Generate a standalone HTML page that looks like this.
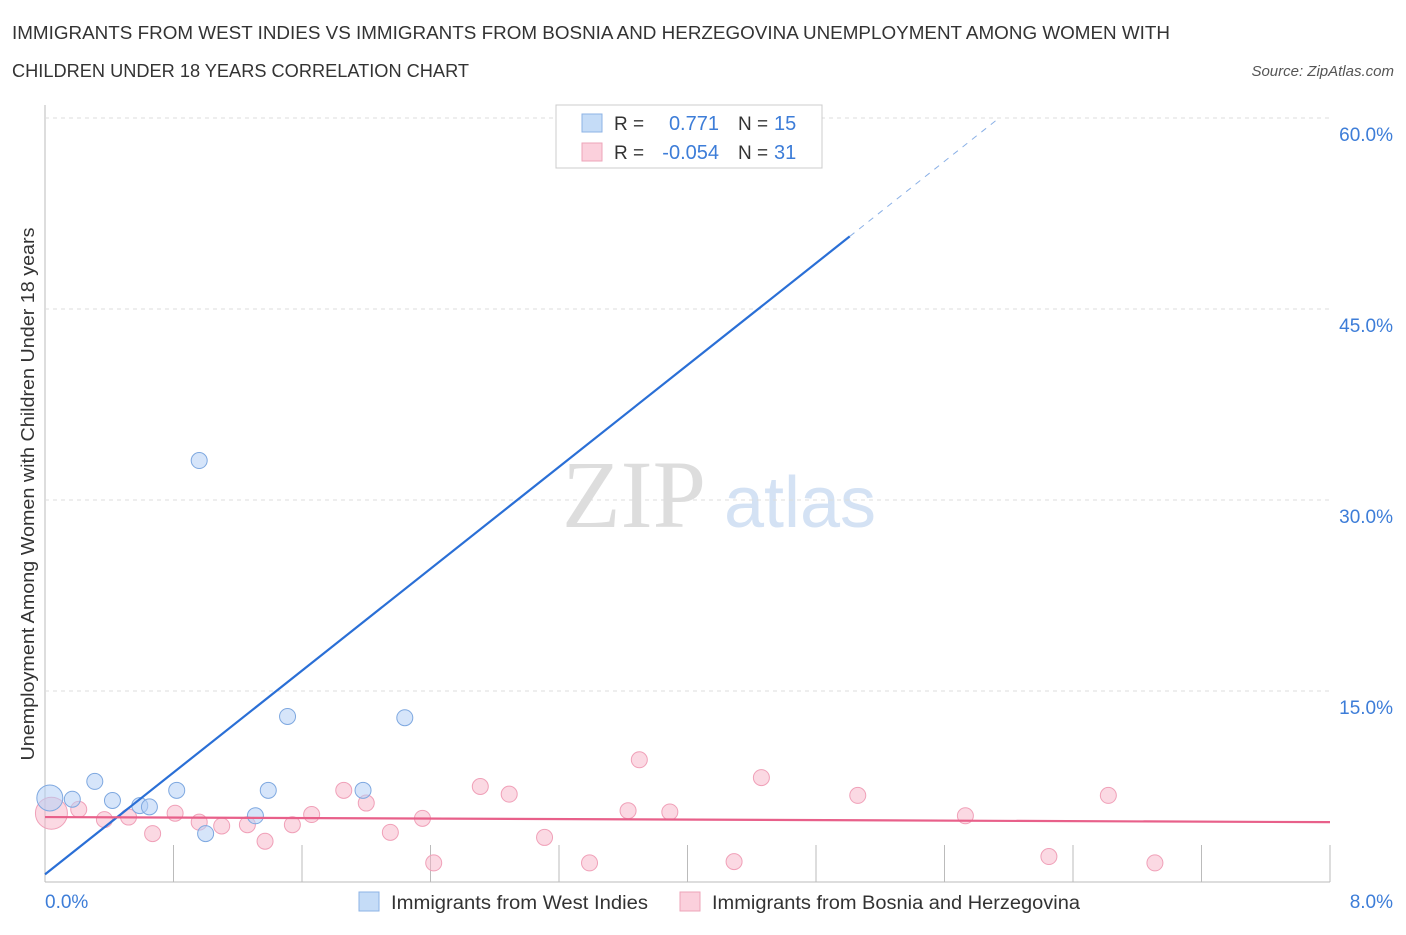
<!DOCTYPE html>
<html><head><meta charset="utf-8"><style>
body{margin:0;background:#fff;font-family:"Liberation Sans",sans-serif}
</style></head><body>
<svg id="c" width="1406" height="930" xmlns="http://www.w3.org/2000/svg" style="font-family:'Liberation Sans',sans-serif">
<text x="12" y="39" font-size="18" fill="#333" textLength="1158" lengthAdjust="spacingAndGlyphs">IMMIGRANTS FROM WEST INDIES VS IMMIGRANTS FROM BOSNIA AND HERZEGOVINA UNEMPLOYMENT AMONG WOMEN WITH</text>
<text x="12" y="77" font-size="18" fill="#333" textLength="457" lengthAdjust="spacingAndGlyphs">CHILDREN UNDER 18 YEARS CORRELATION CHART</text>
<text x="1394" y="76" font-size="15" fill="#555" font-style="italic" text-anchor="end">Source: ZipAtlas.com</text>
<text x="634" y="527" font-size="96" fill="#ddd" font-family="Liberation Serif,serif" text-anchor="middle">ZIP</text>
<text x="800" y="527" font-size="72" fill="#d4e2f4" text-anchor="middle">atlas</text>
<text transform="translate(34,494) rotate(-90)" font-size="18" fill="#333" text-anchor="middle" textLength="533" lengthAdjust="spacingAndGlyphs">Unemployment Among Women with Children Under 18 years</text>
<g id="grid"></g><g id="marks"></g>
<g>
<rect x="556" y="105" width="266" height="63" fill="#fff" stroke="#ccc"/>
<rect x="582" y="114" width="20" height="18" fill="#c5dcf7" stroke="#8db3e6"/>
<rect x="582" y="143" width="20" height="18" fill="#fbd0dc" stroke="#eea4b9"/>
<text x="614" y="130" font-size="19" fill="#333">R =</text><text x="719" y="130" font-size="20" fill="#3d7dd8" text-anchor="end">0.771</text>
<text x="738" y="130" font-size="19" fill="#333">N =</text><text x="774" y="130" font-size="20" fill="#3d7dd8">15</text>
<text x="614" y="159" font-size="19" fill="#333">R =</text><text x="719" y="159" font-size="20" fill="#3d7dd8" text-anchor="end">-0.054</text>
<text x="738" y="159" font-size="19" fill="#333">N =</text><text x="774" y="159" font-size="20" fill="#3d7dd8">31</text>
</g>
<g>
<rect x="359" y="892" width="20" height="19" fill="#c5dcf7" stroke="#8db3e6"/>
<text x="391" y="909" font-size="19" fill="#333" textLength="257" lengthAdjust="spacingAndGlyphs">Immigrants from West Indies</text>
<rect x="680" y="892" width="20" height="19" fill="#fbd0dc" stroke="#eea4b9"/>
<text x="712" y="909" font-size="19" fill="#333" textLength="368" lengthAdjust="spacingAndGlyphs">Immigrants from Bosnia and Herzegovina</text>
</g>
</svg>
<script>
const yTicks=[15,30,45,60];
const yTickLabels=["15.0%","30.0%","45.0%","60.0%"];
const blueX=[0.03,0.17,0.31,0.42,0.59,0.65,0.82,0.96,1.00,1.31,1.39,1.51,1.98,2.24,4.53];
const blueY=[6.6,6.5,7.9,6.4,6.0,5.9,7.2,33.1,3.8,5.2,7.2,13.0,7.2,12.9,58.7];
const pinkX=[0.04,0.21,0.37,0.52,0.67,0.81,0.96,1.10,1.26,1.37,1.54,1.66,1.86,2.00,2.15,2.35,2.42,2.71,2.89,3.11,3.39,3.63,3.70,3.89,4.29,4.46,5.06,5.73,6.25,6.62,6.91];
const pinkY=[5.4,5.7,4.9,5.1,3.8,5.4,4.7,4.4,4.5,3.2,4.5,5.3,7.2,6.2,3.9,5.0,1.5,7.5,6.9,3.5,1.5,5.6,9.6,5.5,1.6,8.2,6.8,5.2,2.0,6.8,1.5];
const blueLine=[0.6,10.0]; // intercept, slope
const pinkLine=[5.1,-0.05];
const X=v=>45+v/8*1285, Y=v=>882-v/15*191;
const NS="http://www.w3.org/2000/svg";
function mk(p,t,a){const e=document.createElementNS(NS,t);for(const k in a)e.setAttribute(k,a[k]);p.appendChild(e);return e;}
const g=document.getElementById('grid'),m=document.getElementById('marks');
let ax=mk(g,'line',{x1:45,y1:105,x2:45,y2:882,stroke:'#bbb'});


let bx=mk(g,'line',{x1:45,y1:882,x2:1330,y2:882,stroke:'#bbb'});


for(let i=1;i<=10;i++){const t=mk(g,'line',{x1:X(i*0.8),y1:845,x2:X(i*0.8),y2:882,stroke:'#bbb'});

}
yTicks.forEach((v,i)=>{const l=mk(g,'line',{x1:45,y1:Y(v),x2:1330,y2:Y(v),stroke:'#ddd','stroke-dasharray':'4,4'});


const t=mk(g,'text',{x:1393,y:Y(v)+23,'font-size':19,fill:'#3d7dd8','text-anchor':'end'});t.textContent=yTickLabels[i];

});
const x0=mk(g,'text',{x:45,y:908,'font-size':19,fill:'#3d7dd8'});x0.textContent='0.0%';


const x1=mk(g,'text',{x:1393,y:908,'font-size':19,fill:'#3d7dd8','text-anchor':'end'});x1.textContent='8.0%';


pinkX.forEach((v,i)=>{const c=mk(m,'circle',{cx:X(v),cy:Y(pinkY[i]),r:i==0?16:8,fill:'rgba(248,180,200,0.5)',stroke:'#f0a0b8'});

});
blueX.forEach((v,i)=>{const c=mk(m,'circle',{cx:X(v),cy:Y(blueY[i]),r:i==0?13:8,fill:'rgba(180,208,245,0.55)',stroke:'#7ea8e0'});

});
const bEnd=5.01, bDash=(60-blueLine[0])/blueLine[1];
let l1=mk(m,'line',{x1:X(0),y1:Y(blueLine[0]),x2:X(bEnd),y2:Y(blueLine[0]+blueLine[1]*bEnd),stroke:'#2a6fd6','stroke-width':2.2});


let l2=mk(m,'line',{x1:X(bEnd),y1:Y(blueLine[0]+blueLine[1]*bEnd),x2:X(bDash),y2:Y(blueLine[0]+blueLine[1]*bDash),stroke:'#8ab0e6','stroke-width':1,'stroke-dasharray':'6,6'});


let l3=mk(m,'line',{x1:X(0),y1:Y(pinkLine[0]),x2:X(8),y2:Y(pinkLine[0]+pinkLine[1]*8),stroke:'#e8608a','stroke-width':2.2});


</script>
</body></html>
